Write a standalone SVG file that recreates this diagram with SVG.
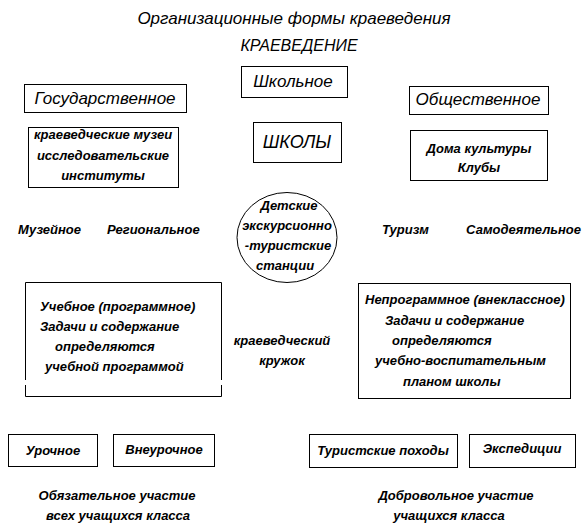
<svg xmlns="http://www.w3.org/2000/svg" width="584" height="527" viewBox="0 0 584 527">
<style>
.b{fill:#fff;stroke:#000;stroke-width:1}
.t{font-family:"Liberation Sans",Arial,sans-serif;font-style:italic;fill:#000}
.big{font-size:17px}
.s{font-size:13px;font-weight:bold}
.c{text-anchor:middle}
</style>
<rect width="584" height="527" fill="#fff"/>
<text class="t big c" x="294" y="24">Организационные формы краеведения</text>
<text class="t c" style="font-size:16px" x="299" y="51">КРАЕВЕДЕНИЕ</text>

<g id="shkolnoe"><rect class="b" x="241.5" y="66.5" width="106" height="31"/><text class="t big c" x="293" y="87">Школьное</text></g>
<g id="gos"><rect class="b" x="24.5" y="84.5" width="162" height="28"/><text class="t big c" x="105" y="104">Государственное</text></g>
<g id="obsh"><rect class="b" x="409.5" y="86.5" width="139" height="28"/><text class="t big c" x="478" y="105">Общественное</text></g>

<g id="muzei"><rect class="b" x="28.5" y="127.5" width="150" height="60"/>
<text class="t s c" x="103" y="139">краеведческие музеи</text>
<text class="t s c" x="103" y="160">исследовательские</text>
<text class="t s c" x="103" y="180">институты</text></g>
<g id="shkoly"><rect class="b" x="253.5" y="122.5" width="88" height="40"/><text class="t c" style="font-size:18px" x="297" y="148">ШКОЛЫ</text></g>
<g id="doma"><rect class="b" x="410.5" y="130.5" width="137" height="50"/>
<text class="t s c" x="479" y="153">Дома культуры</text>
<text class="t s c" x="479" y="172">Клубы</text></g>

<g id="stancii"><ellipse class="b" cx="287" cy="237.5" rx="50" ry="45"/>
<text class="t s c" x="289" y="210">Детские</text>
<text class="t s c" x="287" y="230">экскурсионно</text>
<text class="t s c" x="288" y="250">-туристские</text>
<text class="t s c" x="285" y="270">станции</text></g>

<g id="muzeinoe"><text class="t s" x="18" y="234">Музейное</text></g>
<g id="regional"><text class="t s" x="107" y="234">Региональное</text></g>
<g id="turizm"><text class="t s" x="382" y="234">Туризм</text></g>
<g id="samod"><text class="t s" x="466" y="234">Самодеятельное</text></g>

<g id="uchebnoe"><path class="b" fill="none" d="M25.5,380 V282.5 H221.5 V380 M25.5,385 V396.5 H221.5 V385"/>
<text class="t s" x="40" y="311">Учебное (программное)</text>
<text class="t s" x="40" y="331">Задачи и содержание</text>
<text class="t s" x="55" y="351">определяются</text>
<text class="t s" x="45" y="371">учебной программой</text></g>

<g id="kruzhok"><text class="t s c" x="282" y="345">краеведческий</text><text class="t s c" x="282" y="365">кружок</text></g>

<g id="neprog"><rect class="b" x="358.5" y="283.5" width="212" height="115"/>
<text class="t s" x="365" y="304">Непрограммное (внеклассное)</text>
<text class="t s" x="385" y="325">Задачи и содержание</text>
<text class="t s" x="392" y="345">определяются</text>
<text class="t s" x="375" y="365">учебно-воспитательным</text>
<text class="t s" x="403" y="386">планом школы</text></g>

<g id="urochnoe"><rect class="b" x="8.5" y="434.5" width="89" height="32"/><text class="t s c" x="53" y="455">Урочное</text></g>
<g id="vneurochnoe"><rect class="b" x="113.5" y="434.5" width="101" height="32"/><text class="t s c" x="164" y="454">Внеурочное</text></g>
<g id="pohody"><rect class="b" x="309.5" y="434.5" width="148" height="33"/><text class="t s c" x="383" y="455">Туристские походы</text></g>
<g id="ekspedicii"><rect class="b" x="469.5" y="434.5" width="106" height="33"/><text class="t s c" x="522" y="453">Экспедиции</text></g>

<g id="obyaz"><text class="t s c" x="117" y="500">Обязательное участие</text><text class="t s c" x="118" y="520">всех учащихся класса</text></g>
<g id="dobr"><text class="t s c" x="456" y="500">Добровольное участие</text><text class="t s c" x="449" y="520">учащихся класса</text></g>
<g id="connectors"></g>
</svg>
